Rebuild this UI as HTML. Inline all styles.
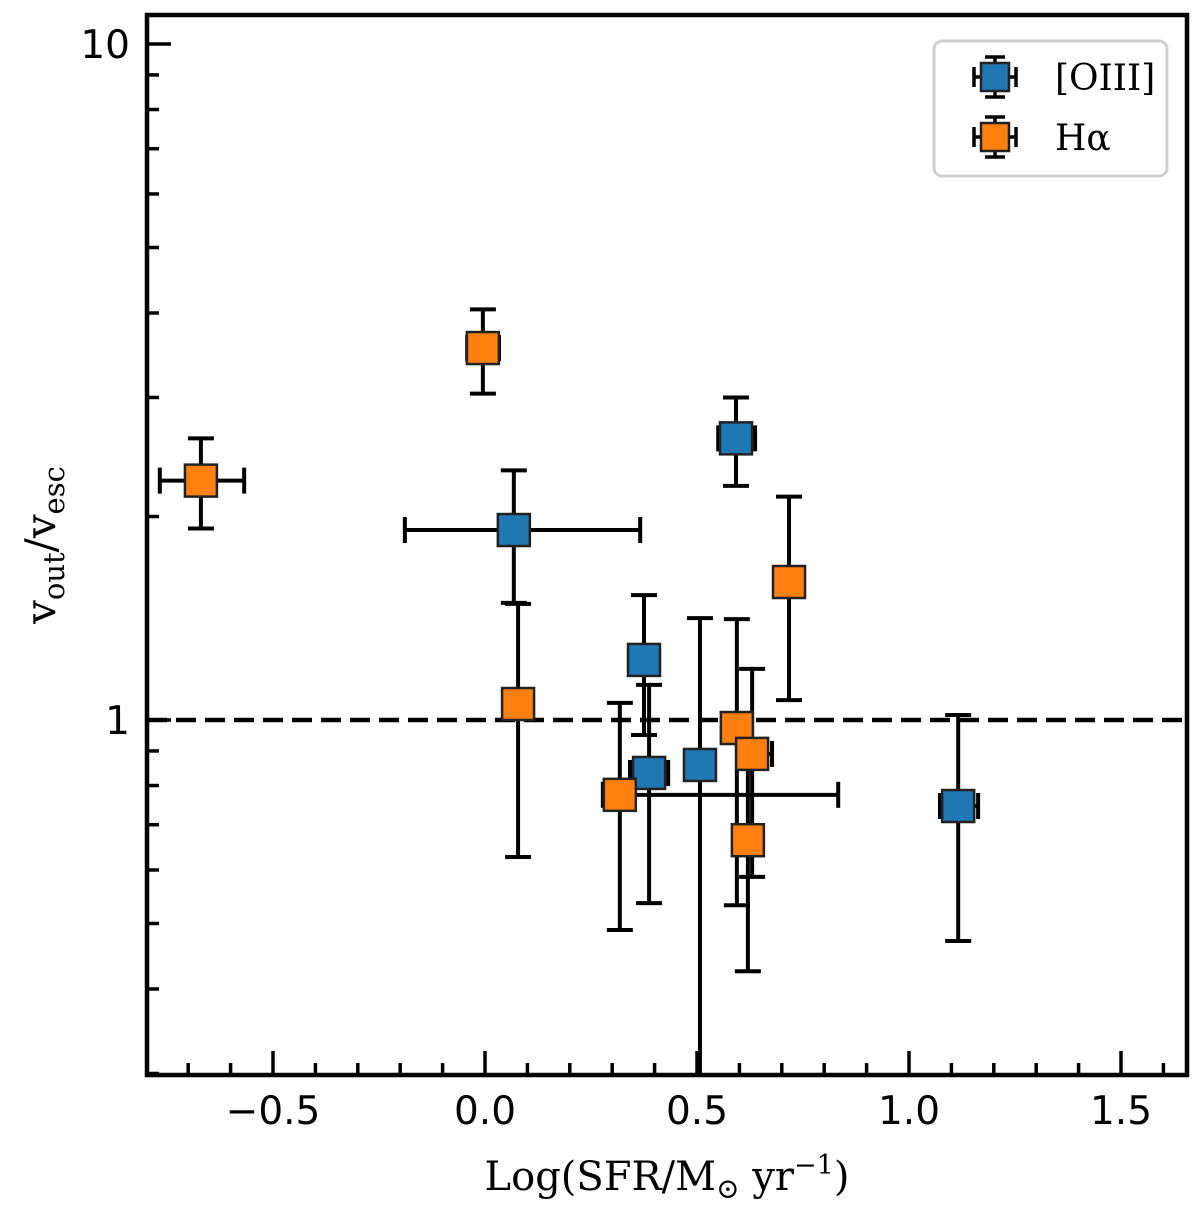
<!DOCTYPE html>
<html><head><meta charset="utf-8"><style>
html,body{margin:0;padding:0;background:#fff;width:1200px;height:1214px;overflow:hidden;}
svg{display:block;}
</style></head><body>
<svg id="chart" width="1200" height="1214" viewBox="0 0 1200 1214" xmlns="http://www.w3.org/2000/svg">
<g id="marks"></g>
<g id="axes"></g>
</svg>
<script>
// OIII series
const oiiiX = [0.068, 0.592, 0.375, 0.387, 0.507, 1.116];
const oiiiXlo = [-0.189, 0.550, 0.375, 0.342, 0.49, 1.073];
const oiiiXhi = [0.366, 0.637, 0.375, 0.432, 0.52, 1.163];
const oiiiY = [1.91, 2.61, 1.227, 0.835, 0.858, 0.746];
const oiiiYlo = [1.49, 2.22, 0.95, 0.536, 0.1, 0.471];
const oiiiYhi = [2.34, 3.00, 1.53, 1.127, 1.415, 1.017];
// H-alpha series
const haX = [-0.670, -0.005, 0.078, 0.318, 0.594, 0.630, 0.620, 0.717];
const haXlo = [-0.767, -0.042, 0.078, 0.278, 0.594, 0.597, 0.620, 0.717];
const haXhi = [-0.568, 0.033, 0.078, 0.833, 0.594, 0.677, 0.620, 0.717];
const haY = [2.26, 3.55, 1.056, 0.775, 0.973, 0.891, 0.664, 1.60];
const haYlo = [1.92, 3.04, 0.627, 0.489, 0.532, 0.586, 0.425, 1.07];
const haYhi = [2.61, 4.05, 1.485, 1.06, 1.41, 1.19, 0.918, 2.14];
const xTicks = [-0.5, 0.0, 0.5, 1.0, 1.5];
const xTickLabels = ["\u22120.5", "0.0", "0.5", "1.0", "1.5"];
const yTicks = [1, 10];
const yTickLabels = ["1", "10"];

const NS = "http://www.w3.org/2000/svg";
const L = 147, R = 1187, T = 15, B = 1075;
const sx = v => 485 + 424 * v;
const sy = v => 720 - 676 * Math.log10(v);
const marks = document.getElementById('marks');
const axes = document.getElementById('axes');
function mk(tag, attrs, parent) {
  const e = document.createElementNS(NS, tag);
  for (const k in attrs) e.setAttribute(k, attrs[k]);
  parent.appendChild(e);
  return e;
}
const defs = mk('defs', {}, marks);
const cp = mk('clipPath', {id: 'clip'}, defs);
mk('rect', {x: L, y: T, width: R - L, height: B - T}, cp);
const plot = mk('g', {'clip-path': 'url(#clip)'}, marks);

const ref = mk('line', {x1: L, x2: R, y1: sy(1), y2: sy(1), stroke: '#000', 'stroke-width': 4.5, 'stroke-dasharray': '20,9'}, plot);



function series(xs, xlo, xhi, ys, ylo, yhi, color, name) {
  const g = mk('g', {}, plot);
  
  
  for (let i = 0; i < xs.length; i++) {
    const cx = sx(xs[i]), cy = sy(ys[i]);
    const eb = mk('g', {stroke: '#000', 'stroke-width': 4, fill: 'none'}, g);
    
    
    const y1 = sy(yhi[i]), y2 = sy(ylo[i]);
    mk('line', {x1: cx, x2: cx, y1: y1, y2: y2}, eb);
    mk('line', {x1: cx - 13, x2: cx + 13, y1: y1, y2: y1}, eb);
    mk('line', {x1: cx - 13, x2: cx + 13, y1: y2, y2: y2}, eb);
    const x1 = sx(xlo[i]), x2 = sx(xhi[i]);
    if (x2 - x1 > 4) {
      mk('line', {x1: x1, x2: x2, y1: cy, y2: cy}, eb);
      mk('line', {x1: x1, x2: x1, y1: cy - 13, y2: cy + 13}, eb);
      mk('line', {x1: x2, x2: x2, y1: cy - 13, y2: cy + 13}, eb);
    }
  }
  for (let i = 0; i < xs.length; i++) {
    const cx = sx(xs[i]), cy = sy(ys[i]);
    const m = mk('rect', {x: cx - 16, y: cy - 16, width: 32, height: 32, fill: color, stroke: '#222', 'stroke-width': 2.5}, g);
    
    
  }
}
series(oiiiX, oiiiXlo, oiiiXhi, oiiiY, oiiiYlo, oiiiYhi, '#1f77b4', 'oiii');
series(haX, haXlo, haXhi, haY, haYlo, haYhi, '#ff7f0e', 'halpha');

const fr = mk('rect', {x: L, y: T, width: R - L, height: B - T, fill: 'none', stroke: '#000', 'stroke-width': 4.5}, axes);



for (let k = -8; k <= 17; k++) {
  const v = k / 10, px = sx(v);
  if (px <= L || px >= R) continue;
  const major = k % 5 === 0;
  const t = mk('line', {x1: px, x2: px, y1: B, y2: B - (major ? 24 : 12), stroke: '#000', 'stroke-width': 3.5}, axes);
  
  
}
for (let i = 0; i < xTicks.length; i++) {
  const tx = mk('text', {x: sx(xTicks[i]), y: 1124, 'text-anchor': 'middle', 'font-family': 'DejaVu Sans, Liberation Sans, sans-serif', 'font-size': 39}, axes);
  tx.textContent = xTickLabels[i];
  
  
}
for (let d = -1; d <= 1; d++) {
  for (let m = 1; m <= 9; m++) {
    const v = m * Math.pow(10, d), py = sy(v);
    if (py <= T || py >= B) continue;
    const major = m === 1;
    const t = mk('line', {x1: L, x2: L + (major ? 24 : 12), y1: py, y2: py, stroke: '#000', 'stroke-width': 3.5}, axes);
    
    
  }
}
for (let i = 0; i < yTicks.length; i++) {
  const tx = mk('text', {x: 130, y: sy(yTicks[i]) + 14, 'text-anchor': 'end', 'font-family': 'DejaVu Sans, Liberation Sans, sans-serif', 'font-size': 39}, axes);
  tx.textContent = yTickLabels[i];
  
  
}
const xt = mk('text', {x: 667, y: 1190, 'text-anchor': 'middle', 'font-family': 'DejaVu Serif, Liberation Serif, serif', 'font-size': 40}, axes);
xt.innerHTML = 'Log(SFR/M<tspan font-size="28" dy="8">\u2299</tspan><tspan dy="-8"> yr</tspan><tspan font-size="27" dy="-16">\u22121</tspan><tspan dy="16">)</tspan>';


const yt = mk('text', {x: 0, y: 0, 'text-anchor': 'middle', 'font-family': 'DejaVu Serif, Liberation Serif, serif', 'font-size': 42, transform: 'translate(55,545) rotate(-90)'}, axes);
yt.innerHTML = 'v<tspan font-size="29" dy="9">out</tspan><tspan dy="-9">/v</tspan><tspan font-size="29" dy="9">esc</tspan>';



const lg = mk('g', {}, axes);


mk('rect', {x: 934, y: 41, width: 233, height: 135, rx: 8, fill: '#fff', stroke: '#d0d0d0', 'stroke-width': 3}, lg);
const entries = [['[OIII]', '#1f77b4', 77, 'legend-entry-oiii'], ['H\u03b1', '#ff7f0e', 137, 'legend-entry-halpha']];
for (const [lab, col, y, nm] of entries) {
  const e = mk('g', {}, lg);
  
  
  const s = {stroke: '#000', 'stroke-width': 3.5};
  mk('line', Object.assign({x1: 995, x2: 995, y1: y - 20, y2: y + 20}, s), e);
  mk('line', Object.assign({x1: 985, x2: 1005, y1: y - 20, y2: y - 20}, s), e);
  mk('line', Object.assign({x1: 985, x2: 1005, y1: y + 20, y2: y + 20}, s), e);
  mk('line', Object.assign({x1: 974, x2: 1016, y1: y, y2: y}, s), e);
  mk('line', Object.assign({x1: 974, x2: 974, y1: y - 10, y2: y + 10}, s), e);
  mk('line', Object.assign({x1: 1016, x2: 1016, y1: y - 10, y2: y + 10}, s), e);
  mk('rect', {x: 981, y: y - 14, width: 28, height: 28, fill: col, stroke: '#222', 'stroke-width': 2.5}, e);
  const t = mk('text', {x: 1055, y: y + 13, 'font-family': 'DejaVu Serif, Liberation Serif, serif', 'font-size': 36}, e);
  t.textContent = lab;
}
</script>
</body></html>
